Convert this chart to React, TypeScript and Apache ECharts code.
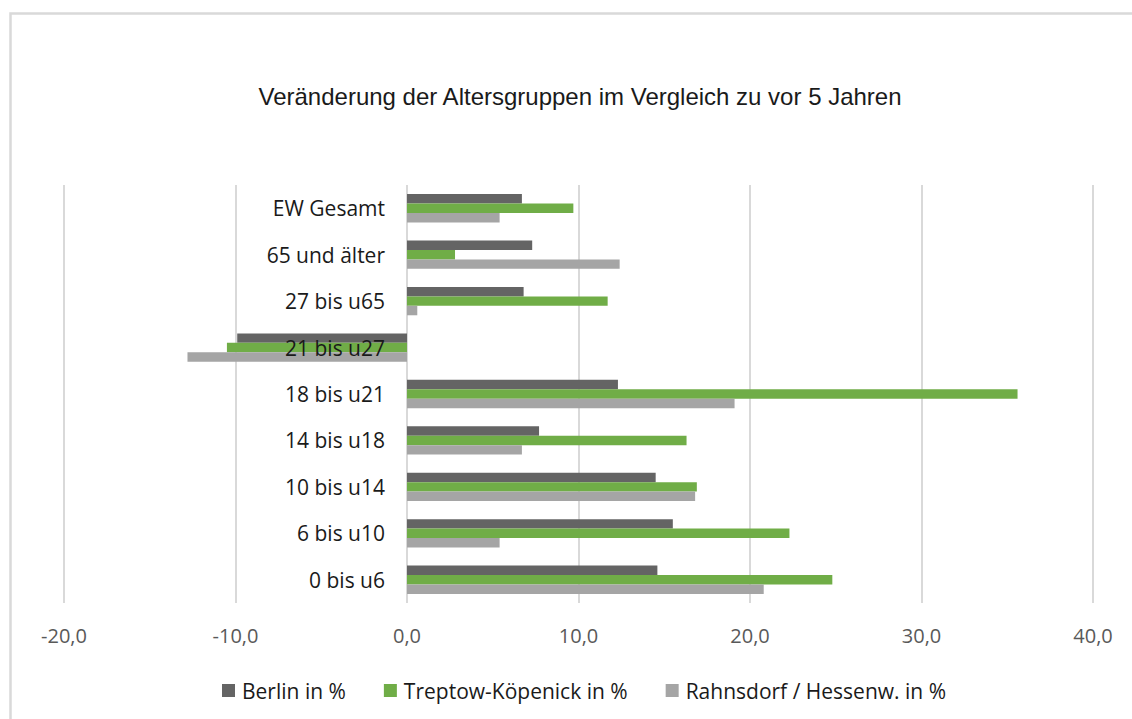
import React, { useEffect, useRef } from "react";
import * as echarts from "echarts";

const titleText = "Veränderung der Altersgruppen im Vergleich zu vor 5 Jahren";
const categories = [
  "EW Gesamt",
  "65 und älter",
  "27 bis u65",
  "21 bis u27",
  "18 bis u21",
  "14 bis u18",
  "10 bis u14",
  "6 bis u10",
  "0 bis u6",
];
const seriesNames = ["Berlin in %", "Treptow-Köpenick in %", "Rahnsdorf / Hessenw. in %"];
const berlin = [6.7, 7.3, 6.8, -9.9, 12.3, 7.7, 14.5, 15.5, 14.6];
const treptow = [9.7, 2.8, 11.7, -10.5, 35.6, 16.3, 16.9, 22.3, 24.8];
const rahnsdorf = [5.4, 12.4, 0.6, -12.8, 19.1, 6.7, 16.8, 5.4, 20.8];
const colors = ["#646464", "#70AD47", "#A5A5A5"];
const xMin = -20;
const xMax = 40;
const xInterval = 10;

const gridLeft = 64;
const gridRight = 39;
const chartWidth = 1132;

export default function App() {
  const ref = useRef<HTMLDivElement>(null);
  useEffect(() => {
    if (!ref.current) return;
    const chart = echarts.init(ref.current, null, { renderer: "svg" });
    const values = [berlin, treptow, rahnsdorf];
    const plotWidth = chartWidth - gridLeft - gridRight;
    const zeroOffset = (plotWidth * (0 - xMin)) / (xMax - xMin);
    chart.setOption({
      animation: false,
      backgroundColor: "#ffffff",
      graphic: [
        {
          type: "rect",
          shape: { x: 10.5, y: 13.5, width: 1140, height: 720 },
          style: { fill: "none", stroke: "#d9d9d9", lineWidth: 2.5 },
          silent: true,
        },
        {
          type: "text",
          x: 580,
          y: 96,
          style: {
            text: titleText,
            fontFamily: "Liberation Sans, Arial, sans-serif",
            fontSize: 24,
            fill: "#1a1a1a",
            align: "center",
            verticalAlign: "middle",
          },
        },
      ],
      legend: {
        left: 217,
        top: 675,
        itemWidth: 13,
        itemHeight: 13,
        itemGap: 38,
        icon: "rect",
        textStyle: { fontFamily: "Open Sans", fontSize: 21, color: "#1a1a1a", padding: [0, 0, 0, 2] },
        data: seriesNames,
      },
      grid: { left: gridLeft, right: gridRight, top: 185, bottom: 116, containLabel: false, outerBoundsMode: "none" },
      xAxis: {
        type: "value",
        min: xMin,
        max: xMax,
        interval: xInterval,
        axisLine: { show: false },
        axisTick: { show: false },
        splitLine: { show: true, lineStyle: { color: "#d9d9d9", width: 2 } },
        axisLabel: {
          fontFamily: "Open Sans",
          fontSize: 20,
          color: "#595959",
          margin: 22,
          formatter: (v: number) => v.toFixed(1).replace(".", ","),
        },
      },
      yAxis: {
        type: "category",
        inverse: true,
        data: categories,
        z: 10,
        offset: -zeroOffset,
        axisLine: { show: false, onZero: false },
        axisTick: { show: false },
        splitLine: { show: false },
        axisLabel: {
          fontFamily: "Open Sans",
          fontSize: 21,
          color: "#1a1a1a",
          margin: 22,
        },
      },
      series: seriesNames.map((name, i) => ({
        name,
        type: "bar",
        data: values[i],
        barGap: "0%",
        barCategoryGap: "39%",
        itemStyle: { color: colors[i] },
      })),
    });
    return () => chart.dispose();
  }, []);
  return (
    <div
      ref={ref}
      style={{ position: "absolute", left: 0, top: 0, width: 1132, height: 719 }}
    />
  );
}
